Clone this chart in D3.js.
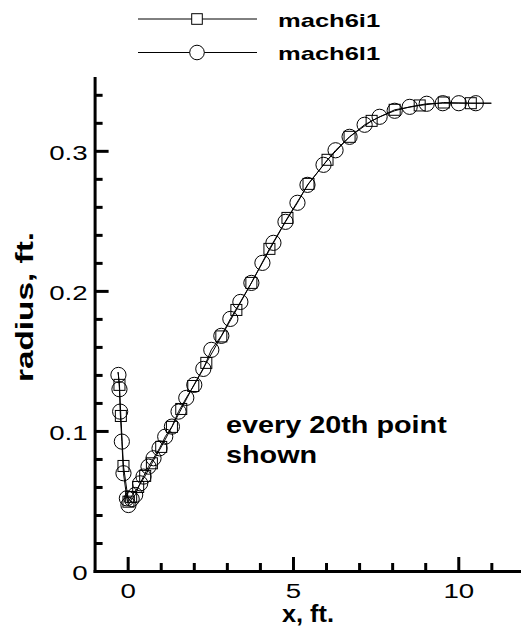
<!DOCTYPE html>
<html>
<head>
<meta charset="utf-8">
<script src="https://cdn.jsdelivr.net/npm/d3@7"></script>
<style>
  html, body { margin: 0; padding: 0; background: #fff; }
  svg { display: block; }
  text { font-family: "Liberation Sans", Arial, Helvetica, sans-serif; fill: #000; }
</style>
</head>
<body>
<svg id="chart" width="521" height="627"></svg>
<script>
// ---------------- data ----------------
const seriesNames = ["mach6i1", "mach6l1"];

// mach6i1 (squares) marker points, in path order
const squareX = [-0.248, -0.206, -0.127, 0.024, 0.106, 0.318, 0.530, 0.733, 1.015, 1.339, 1.621, 1.985, 2.379, 2.833, 3.288, 3.742, 4.288, 4.833, 5.470, 6.045, 6.712, 7.379, 8.076, 8.833, 9.561, 10.379];
const squareR = [0.1329, 0.1107, 0.0750, 0.0495, 0.0529, 0.0600, 0.0679, 0.0769, 0.0886, 0.1029, 0.1157, 0.1321, 0.1486, 0.1675, 0.1864, 0.2057, 0.2300, 0.2521, 0.2764, 0.2936, 0.3100, 0.3214, 0.3293, 0.3324, 0.3345, 0.3340];

// mach6l1 (circles) marker points, in path order
const circleX = [-0.279, -0.248, -0.227, -0.176, -0.127, -0.024, 0.024, 0.121, 0.227, 0.379, 0.479, 0.630, 0.782, 0.964, 1.136, 1.339, 1.539, 1.773, 2.015, 2.288, 2.530, 2.833, 3.106, 3.409, 3.742, 4.076, 4.409, 4.773, 5.136, 5.439, 5.924, 6.288, 6.712, 7.167, 7.621, 8.076, 8.530, 9.045, 9.530, 10.015, 10.530];
const circleR = [0.1400, 0.1298, 0.1138, 0.0924, 0.0698, 0.0519, 0.0471, 0.0514, 0.0543, 0.0626, 0.0674, 0.0745, 0.0805, 0.0876, 0.0959, 0.1031, 0.1138, 0.1236, 0.1329, 0.1443, 0.1579, 0.1679, 0.1800, 0.1921, 0.2057, 0.2200, 0.2343, 0.2493, 0.2629, 0.2757, 0.2900, 0.3004, 0.3100, 0.3186, 0.3243, 0.3286, 0.3314, 0.3336, 0.3340, 0.3340, 0.3340];

// end points of the full (unmarked) profile line
const curveStart = { x: -0.29, r: 0.142 };
const curveEnd = { x: 11.0, r: 0.334 };

const xMajorTicks = [0, 5, 10];
const xMinorTicks = [1, 2, 3, 4, 6, 7, 8, 9, 11];
const yMajorTicks = [0, 0.1, 0.2, 0.3];
const yMinorTicks = [0.02, 0.04, 0.06, 0.08, 0.12, 0.14, 0.16, 0.18, 0.22, 0.24, 0.26, 0.28, 0.32, 0.34];

const xTitle = "x, ft.";
const yTitle = "radius, ft.";
const noteLines = ["every 20th point", "shown"];

// ---------------- chart ----------------
const svg = d3.select("#chart");

const x = d3.scaleLinear().domain([-1, 12]).range([94.6, 524.4]);
const y = d3.scaleLinear().domain([0, 0.352]).range([571, 78]);

const TX = 1.35; // horizontal text stretch

// x axis
const gx = svg.append("g").attr("transform", `translate(0,${y(0)})`);
gx.append("g").call(d3.axisBottom(x).tickValues(xMinorTicks).tickFormat("").tickSizeInner(-8).tickSizeOuter(0))
  .call(g => g.select(".domain").remove());
const gxMaj = gx.append("g").call(d3.axisBottom(x).tickValues(xMajorTicks).tickFormat(d3.format("d")).tickSizeInner(-14).tickSizeOuter(0).tickPadding(12));
gxMaj.select(".domain").attr("stroke-width", 3).attr("stroke-linecap", "square");
gx.selectAll(".tick line").attr("stroke", "#000").attr("stroke-width", 3);
gxMaj.selectAll(".tick text")
  .attr("font-size", 20.5).attr("font-family", "'Liberation Sans', Arial, sans-serif")
  .attr("transform", `scale(${TX},1)`);

// y axis
const gy = svg.append("g").attr("transform", `translate(${x(-1)},0)`);
gy.append("g").call(d3.axisLeft(y).tickValues(yMinorTicks).tickFormat("").tickSizeInner(-8).tickSizeOuter(0))
  .call(g => g.select(".domain").remove());
const gyMaj = gy.append("g").call(d3.axisLeft(y).tickValues(yMajorTicks).tickFormat(d => d === 0 ? "0" : d3.format(".1f")(d)).tickSizeInner(-14).tickSizeOuter(0).tickPadding(7));
gyMaj.select(".domain").attr("stroke-width", 3).attr("stroke-linecap", "square");
gy.selectAll(".tick line").attr("stroke", "#000").attr("stroke-width", 3);
gyMaj.selectAll(".tick text")
  .attr("font-size", 20.5).attr("font-family", "'Liberation Sans', Arial, sans-serif")
  .attr("x", -7 / TX).attr("dy", "0.4em")
  .attr("transform", `scale(${TX},1)`);

// axis titles
svg.append("text")
  .attr("x", 308).attr("y", 621.5)
  .attr("text-anchor", "middle")
  .attr("font-size", 23).attr("font-weight", "bold")
  .attr("textLength", 52).attr("lengthAdjust", "spacingAndGlyphs")
  .text(xTitle);

svg.append("text")
  .attr("transform", "translate(33,307) rotate(-90)")
  .attr("text-anchor", "middle")
  .attr("font-size", 24).attr("font-weight", "bold")
  .attr("textLength", 150).attr("lengthAdjust", "spacingAndGlyphs")
  .text(yTitle);

// series data
const sqData = squareX.map((v, i) => ({ x: v, r: squareR[i] }));
const ciData = circleX.map((v, i) => ({ x: v, r: circleR[i] }));

const line = d3.line().x(d => x(d.x)).y(d => y(d.r));

const plot = svg.append("g");
[sqData, ciData].forEach(data => {
  plot.append("path")
    .datum([curveStart, ...data, curveEnd])
    .attr("d", line)
    .attr("fill", "none")
    .attr("stroke", "#000")
    .attr("stroke-width", 1);
});

const SQ = 11, CR = 7.6;
plot.selectAll("rect.sq").data(sqData).join("rect")
  .attr("class", "sq")
  .attr("x", d => x(d.x) - SQ / 2).attr("y", d => y(d.r) - SQ / 2)
  .attr("width", SQ).attr("height", SQ)
  .attr("fill", "none").attr("stroke", "#000").attr("stroke-width", 1);

plot.selectAll("circle.ci").data(ciData).join("circle")
  .attr("class", "ci")
  .attr("cx", d => x(d.x)).attr("cy", d => y(d.r)).attr("r", CR)
  .attr("fill", "none").attr("stroke", "#000").attr("stroke-width", 1);

// annotation
const note = svg.append("g");
noteLines.forEach((t, i) => {
  note.append("text")
    .attr("transform", `translate(226,${433 + i * 29.7}) scale(1.2,1)`)
    .attr("font-size", 24).attr("font-weight", "bold")
    .text(t);
});

// legend
const legend = svg.append("g");
const legY = [19, 52.5];
seriesNames.forEach((name, i) => {
  const g = legend.append("g").attr("transform", `translate(0,${legY[i]})`);
  g.append("line").attr("x1", 138).attr("x2", 257).attr("y1", 0).attr("y2", 0)
    .attr("stroke", "#000").attr("stroke-width", 1);
  if (i === 0) {
    g.append("rect").attr("x", 197 - 5.3).attr("y", -5.3).attr("width", 10.6).attr("height", 10.6)
      .attr("fill", "#fff").attr("stroke", "#000").attr("stroke-width", 1);
  } else {
    g.append("circle").attr("cx", 197).attr("cy", 0).attr("r", 7.3)
      .attr("fill", "#fff").attr("stroke", "#000").attr("stroke-width", 1);
  }
  g.append("text")
    .attr("transform", `translate(278,7.5) scale(1.38,1)`)
    .attr("font-size", 18.5).attr("font-weight", "bold")
    .text(name);
});
</script>
</body>
</html>
